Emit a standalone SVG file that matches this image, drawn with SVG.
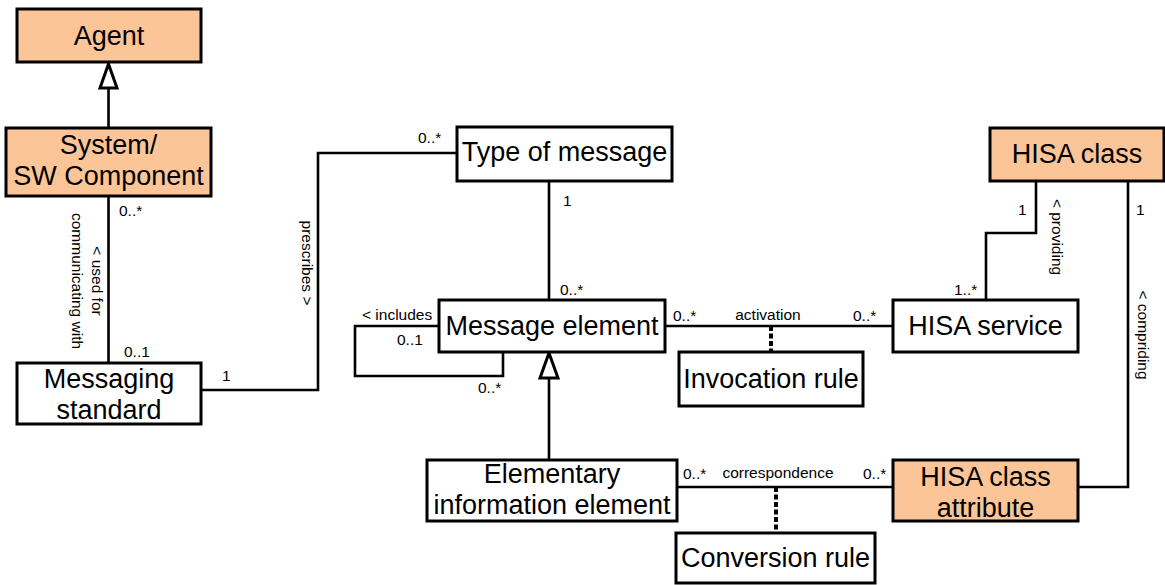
<svg xmlns="http://www.w3.org/2000/svg" width="1165" height="585" viewBox="0 0 1165 585">
<style>
.box{fill:#fff;stroke:#000;stroke-width:3}
.hl{fill:#fbc598;stroke:#000;stroke-width:3}
.t{font-family:"Liberation Sans",Arial,sans-serif;font-size:27px;fill:#000;text-anchor:middle}
.s{font-family:"Liberation Sans",Arial,sans-serif;font-size:15.5px;fill:#000}
.c{fill:none;stroke:#000;stroke-width:2.6}
.d{fill:none;stroke:#000;stroke-width:4;stroke-dasharray:5 2.5}
.g{fill:#fff;stroke:#000;stroke-width:3;stroke-linejoin:miter}
</style>
<rect width="1165" height="585" fill="#fff"/>
<g id="connectors">
  <line class="c" x1="108.5" y1="88" x2="108.5" y2="128"/>
  <polygon class="g" points="108.5,64 117,88 100,88"/>
  <line class="c" x1="108.5" y1="196" x2="108.5" y2="363"/>
  <polyline class="c" points="201,390 318,390 318,153 457,153"/>
  <line class="c" x1="549" y1="181" x2="549" y2="300"/>
  <polyline class="c" points="439,326 355,326 355,376 503,376 503,352"/>
  <line class="c" x1="549" y1="378" x2="549" y2="460"/>
  <polygon class="g" points="549,353 558,378 540,378"/>
  <line class="c" x1="665" y1="326" x2="893" y2="326"/>
  <line class="d" x1="771" y1="326" x2="771" y2="352"/>
  <polyline class="c" points="1036,181 1036,233 986,233 986,300"/>
  <polyline class="c" points="1128,181 1128,487 1078,487"/>
  <line class="c" x1="677" y1="487" x2="893" y2="487"/>
  <line class="d" x1="776" y1="487" x2="776" y2="533"/>
  <text class="s" x="119" y="216">0..*</text>
  <text class="s" x="124" y="357">0..1</text>
  <text class="s" transform="translate(92,281) rotate(90)" text-anchor="middle">&lt; used for</text>
  <text class="s" transform="translate(72,281) rotate(90)" text-anchor="middle">communicating with</text>
  <text class="s" x="222" y="381">1</text>
  <text class="s" transform="translate(302,263) rotate(90)" text-anchor="middle">prescribes &gt;</text>
  <text class="s" x="418" y="143">0..*</text>
  <text class="s" x="563" y="206">1</text>
  <text class="s" x="560" y="295">0..*</text>
  <text class="s" x="362" y="320">&lt; includes</text>
  <text class="s" x="397" y="345">0..1</text>
  <text class="s" x="478" y="393">0..*</text>
  <text class="s" x="673" y="321">0..*</text>
  <text class="s" x="768" y="320" text-anchor="middle">activation</text>
  <text class="s" x="853" y="321">0..*</text>
  <text class="s" x="954" y="295">1..*</text>
  <text class="s" x="1018" y="215">1</text>
  <text class="s" transform="translate(1052,237) rotate(90)" text-anchor="middle">&lt; providing</text>
  <text class="s" x="1136" y="215">1</text>
  <text class="s" transform="translate(1138,335) rotate(90)" text-anchor="middle">&lt; compriding</text>
  <text class="s" x="683" y="479">0..*</text>
  <text class="s" x="778" y="478" text-anchor="middle">correspondence</text>
  <text class="s" x="863" y="479">0..*</text>
</g>
<g id="agent">
  <rect class="hl" x="17" y="9" width="184" height="53"/>
  <text class="t" x="109" y="45">Agent</text>
</g>
<g id="system-sw-component">
  <rect class="hl" x="6" y="128" width="205" height="68"/>
  <text class="t" x="108.5" y="154">System/</text>
  <text class="t" x="108.5" y="185">SW Component</text>
</g>
<g id="messaging-standard">
  <rect class="box" x="17" y="363" width="184" height="61"/>
  <text class="t" x="109" y="388">Messaging</text>
  <text class="t" x="109" y="419">standard</text>
</g>
<g id="type-of-message">
  <rect class="box" x="457" y="127" width="215" height="54"/>
  <text class="t" x="564.5" y="161">Type of message</text>
</g>
<g id="message-element">
  <rect class="box" x="439" y="300" width="226" height="52"/>
  <text class="t" x="552" y="335">Message element</text>
</g>
<g id="invocation-rule">
  <rect class="box" x="679" y="352" width="184" height="54"/>
  <text class="t" x="771" y="388">Invocation rule</text>
</g>
<g id="hisa-class">
  <rect class="hl" x="990" y="128" width="174" height="53"/>
  <text class="t" x="1077" y="163">HISA class</text>
</g>
<g id="hisa-service">
  <rect class="box" x="893" y="300" width="185" height="52"/>
  <text class="t" x="985.5" y="335">HISA service</text>
</g>
<g id="elementary-information-element">
  <rect class="box" x="427" y="460" width="250" height="61"/>
  <text class="t" x="552" y="483">Elementary</text>
  <text class="t" x="552" y="514">information element</text>
</g>
<g id="hisa-class-attribute">
  <rect class="hl" x="893" y="460" width="185" height="61"/>
  <text class="t" x="985.5" y="486">HISA class</text>
  <text class="t" x="985.5" y="517">attribute</text>
</g>
<g id="conversion-rule">
  <rect class="box" x="676" y="533" width="199" height="50"/>
  <text class="t" x="775.5" y="567">Conversion rule</text>
</g>
</svg>
